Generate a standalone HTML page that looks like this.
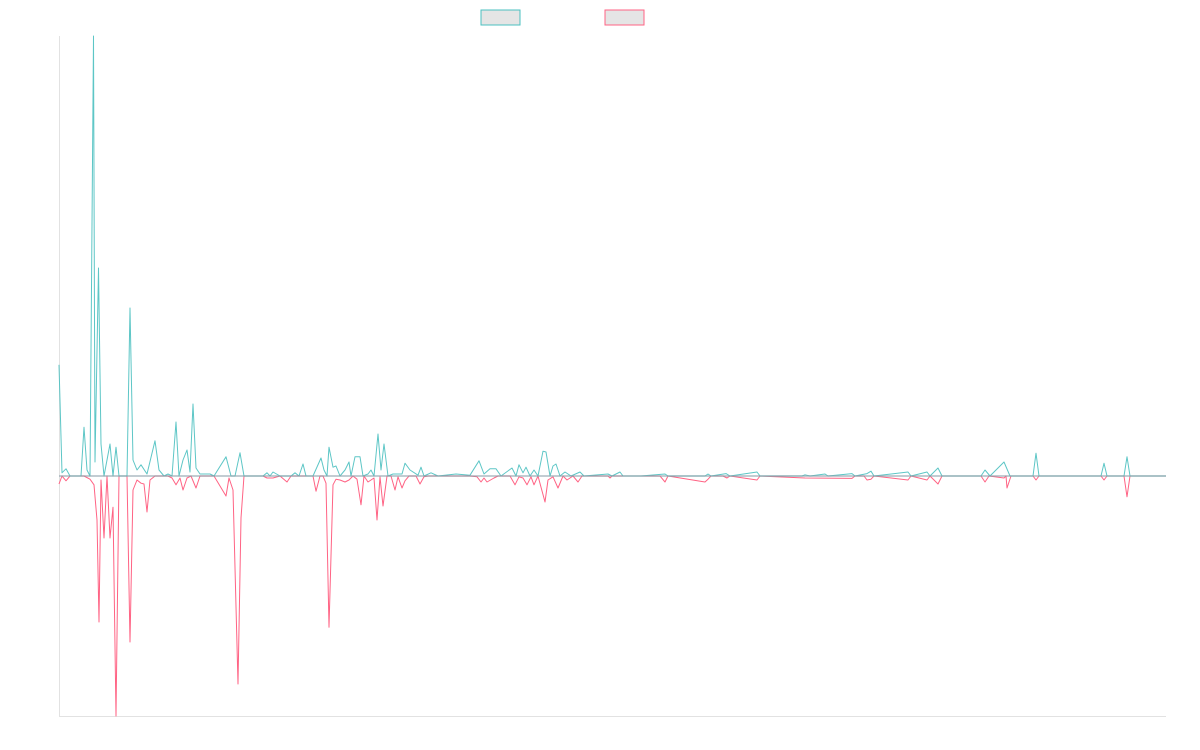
<!DOCTYPE html>
<html><head><meta charset="utf-8"><style>
html,body{margin:0;padding:0;background:#fff;}
svg{display:block;font-family:"Liberation Sans",sans-serif;}
</style></head><body>
<svg id="chart" width="1200" height="750" viewBox="0 0 1200 750" xmlns="http://www.w3.org/2000/svg">
<g>
<rect x="481" y="10" width="39" height="15" fill="#e5e5e5" stroke="rgb(75,192,192)" stroke-width="1"/>
<rect x="605" y="10" width="39" height="15" fill="#e5e5e5" stroke="rgb(255,99,132)" stroke-width="1"/>
</g>
<line x1="59.5" y1="36" x2="59.5" y2="716" stroke="#e2e2e2"/>
<line x1="59" y1="716.5" x2="1166" y2="716.5" stroke="#e2e2e2"/>
<g id="plot"></g>
</svg>
<script>
const tealT=[0,3,7,11,22,25,28,31,34.5,36,39.5,42,45,51,54,57,60,68,71,74,78,82,88,96,100,105,109,113,117,120,124,128,131,134,137,141,151,155,167,172,176,181,185,204,208,211,214,221,232,236,240,244,247,254,262,265,268,270,274,277,281,286,290,292,296,301,304,309,312,315,319,322,325,329,334,338,343,346,351,359,362,365,372,379,397,411,420,425,431,437,442,453,457,460,464,467,471,475,479,484,487,491,494,497,501,506,512,521,525,549,553,561,564,582,606,609,631,646,649,652,667,671,698,701,743,746,751,766,769,793,796,808,812,815,849,852,868,871,879,883,922,926,931,945,951,974,977,980,1042,1045,1048,1065,1068,1071,1107];
const tealV=[2.78,0.08,0.18,0,0,1.22,0.15,0,11,0.35,5.2,0.8,0,0.8,0,0.72,0,0,4.2,0.4,0.15,0.28,0.05,0.88,0.15,0,0.05,0,1.35,0,0.4,0.65,0.1,1.8,0.2,0.05,0.05,0,0.48,0,0,0.58,0,0,0.08,0,0.1,0,0,0.08,0,0.3,0,0,0.45,0.15,0,0.72,0.22,0.25,0,0.15,0.35,0,0.48,0.48,0,0.05,0.15,0,1.05,0.15,0.8,0,0.05,0.05,0.05,0.32,0.15,0.02,0.22,0,0.08,0,0.05,0.02,0.38,0.05,0.18,0.18,0,0.2,0,0.28,0.08,0.22,0,0.15,0,0.62,0.6,0,0.25,0.3,0,0.1,0,0.1,0,0.05,0,0.1,0,0,0.05,0,0,0,0.05,0,0.06,0,0.1,0,0,0.03,0,0.05,0,0.06,0,0.06,0.12,0,0.1,0,0.1,0,0.2,0,0,0.15,0,0.35,0,0,0.57,0,0,0.32,0,0,0.48,0,0];
const pinkT=[0,3,7,11,25,31,35,38,40,42,45,48,51,54,57,60,68,71,74,78,82,85,88,91,96,109,113,117,121,124,128,132,137,141,155,167,170,174,179,182,185,204,208,214,221,228,232,254,257,261,264,267,270,274,277,281,286,290,294,298,302,305,309,315,318,321,324,328,332,336,339,343,346,350,357,361,365,369,379,411,418,422,425,428,435,439,451,456,460,464,468,472,475,479,486,489,494,499,504,508,514,519,523,549,551,553,601,606,609,646,649,652,664,668,671,698,701,746,793,796,805,808,812,815,849,852,868,871,879,883,922,926,930,945,947,948,952,974,977,980,1042,1045,1048,1065,1068,1071,1107];
const pinkV=[-0.2,0,-0.12,0,0,-0.08,-0.22,-1.1,-3.65,-0.1,-1.55,0,-1.55,-0.78,-6,0,0,-4.15,-0.35,-0.1,-0.18,-0.2,-0.9,-0.1,0,0,-0.05,-0.22,-0.05,-0.35,-0.05,0,-0.3,0,0,-0.5,-0.05,-0.35,-5.2,-1.05,0,0,-0.05,-0.05,0,-0.15,0,0,-0.38,0,0,-0.18,-3.78,-0.22,-0.08,-0.1,-0.15,-0.1,0,-0.08,-0.72,0,-0.15,-0.05,-1.1,-0.02,-0.75,0,0,-0.35,-0.02,-0.3,-0.12,0,0,-0.2,-0.02,0,0,0,-0.02,-0.15,-0.05,-0.15,-0.05,0,0,-0.22,-0.02,-0.05,-0.22,-0.02,-0.22,0,-0.65,-0.1,-0.02,-0.3,0,-0.1,0,-0.15,0,0,-0.05,0,0,-0.15,0,-0.15,-0.08,0,0,-0.05,0,-0.1,0,-0.05,-0.06,0,0,-0.1,-0.08,0,-0.1,0,-0.1,0,-0.2,0,0,-0.15,0,-0.05,0,-0.3,0,0,-0.1,0,0,-0.1,0,0,-0.52,0,0];
const xMin=0,xMax=1107,yMin=-6,yMax=11;
const L=59,R=1166,T=36,B=716;
function xs(t){return L+(t-xMin)/(xMax-xMin)*(R-L);}
function ys(v){return B-(v-yMin)/(yMax-yMin)*(B-T);}
const NS="http://www.w3.org/2000/svg";
const plot=document.getElementById('plot');
function draw(T_,V_,color,name){
  let d='';
  for(let i=0;i<T_.length;i++){d+=(i?'L':'M')+xs(T_[i]).toFixed(2)+' '+ys(V_[i]).toFixed(2);}
  const p=document.createElementNS(NS,'path');
  p.setAttribute('d',d);p.setAttribute('fill','none');p.setAttribute('stroke',color);p.setAttribute('stroke-width','1');
  p.setAttribute('stroke-linejoin','round');
  
  
  plot.appendChild(p);
}
draw(pinkT,pinkV,'rgb(255,99,132)','series-b-line');
draw(tealT,tealV,'rgba(75,192,192,0.9)','series-a-line');
const z=document.createElementNS(NS,'line');
z.setAttribute('x1',L);z.setAttribute('x2',R);z.setAttribute('y1',ys(0));z.setAttribute('y2',ys(0));
z.setAttribute('stroke','rgba(140,160,170,0.7)');z.setAttribute('stroke-width','1.5');


plot.appendChild(z);
</script>
</body></html>
